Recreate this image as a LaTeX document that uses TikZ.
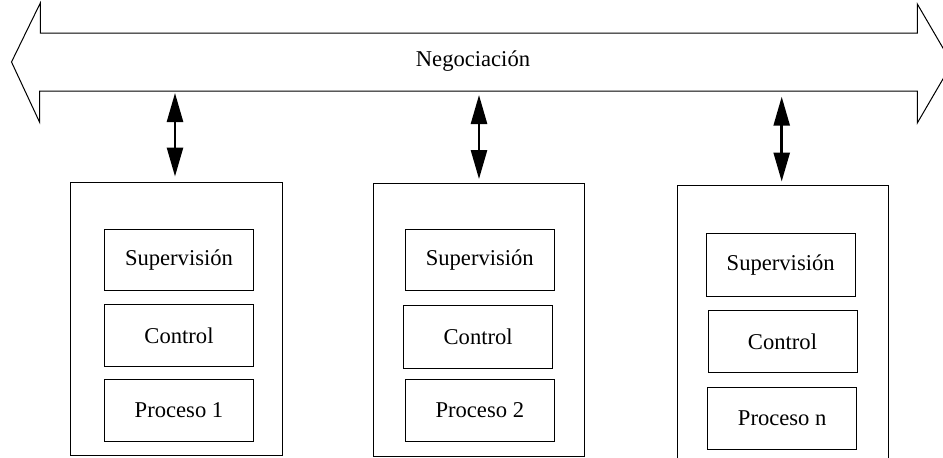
\documentclass[tikz,border=0pt]{standalone}
\usepackage{fontspec}
\setmainfont{Liberation Serif}
\usetikzlibrary{arrows.meta}

\tikzset{
  txt/.style={font=\fontsize{22.6}{27}\selectfont},
  outerbox/.style={draw, line width=1pt, inner sep=0pt},
  innerbox/.style={draw, line width=1pt, inner sep=0pt, txt},
  link/.style={line width=2.6pt, {Triangle[length=29pt,width=16pt]}-{Triangle[length=29pt,width=16pt]}},
  bus/.style={draw, line width=1pt, line join=miter}
}

\begin{document}
\begin{tikzpicture}[x=1pt, y=-1pt]
  \useasboundingbox (0,0) rectangle (943,458);
  \fill[white] (0,0) rectangle (943,458);
  \clip (0,0) rectangle (943,458);

  % negotiation bus: a wide double-headed arrow
  \path[bus] (11.5,62) -- (40.3,3) -- (40.3,33) -- (917.3,33) -- (917.3,4)
    -- (952,63.5) -- (917.3,123) -- (917.3,91) -- (39.5,91) -- (39.5,122) -- cycle;
  \node[txt] (neg) at (473,61) {Negociación};

  % agent 1
  \node[outerbox, minimum width=212pt, minimum height=273pt] (a1) at (176.7,319.2) {};
  \node[innerbox, minimum width=149.4pt, minimum height=61.7pt] (s1) at (179,259.9) {Supervisión};
  \node[innerbox, minimum width=149.4pt, minimum height=62pt] (c1) at (179,335.3) {Control};
  \node[innerbox, minimum width=149.4pt, minimum height=62.4pt] (p1) at (179,410.5) {Proceso 1};

  % agent 2
  \node[outerbox, minimum width=211pt, minimum height=272.7pt] (a2) at (478.8,320.3) {};
  \node[innerbox, minimum width=149pt, minimum height=61.7pt] (s2) at (479.8,259.9) {Supervisión};
  \node[innerbox, minimum width=149pt, minimum height=62.7pt] (c2) at (478.2,336.7) {Control};
  \node[innerbox, minimum width=149pt, minimum height=62.4pt] (p2) at (479.8,410.5) {Proceso 2};

  % agent n
  \node[outerbox, minimum width=211.4pt, minimum height=300pt] (a3) at (783,335.3) {};
  \node[innerbox, minimum width=149.3pt, minimum height=62.7pt] (s3) at (780.7,264.7) {Supervisión};
  \node[innerbox, minimum width=149pt, minimum height=62.4pt] (c3) at (782.5,341.5) {Control};
  \node[innerbox, minimum width=149pt, minimum height=62pt] (p3) at (782.2,418.3) {Proceso n};

  % links between the bus and each agent
  \coordinate (t1) at (175,93);
  \coordinate (t2) at (479,95);
  \coordinate (t3) at (781.7,96.7);
  \draw[link] (t1) -- ([yshift=5.7pt]t1 |- a1.north);
  \draw[link] (t2) -- ([yshift=4.4pt]t2 |- a2.north);
  \draw[link] (t3) -- ([yshift=3.3pt]t3 |- a3.north);
\end{tikzpicture}
\end{document}
